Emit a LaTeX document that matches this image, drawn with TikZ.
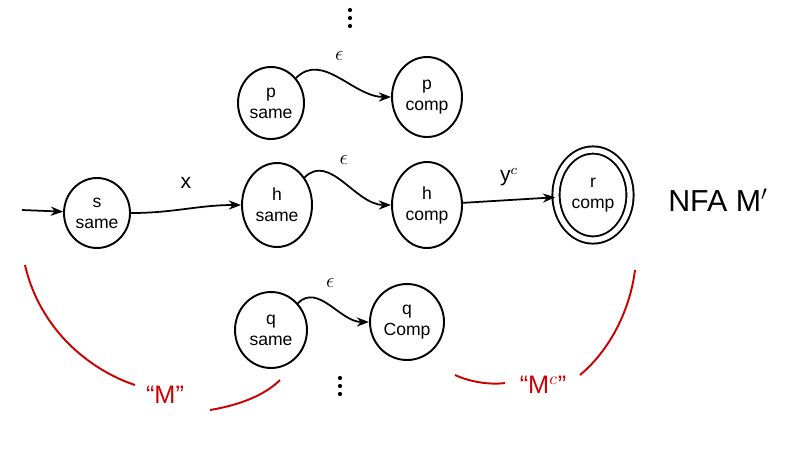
\documentclass[tikz,border=0pt]{standalone}
\usepackage{fontspec}
\setmainfont{Liberation Sans}
\usetikzlibrary{shapes.geometric,arrows.meta}
\begin{document}
\begin{tikzpicture}[x=0.02cm,y=-0.02cm,
  st/.style={draw,ellipse,line width=1.1pt,inner sep=0pt,align=center,font=\normalsize},
  ed/.style={line width=1pt,-{Stealth[length=7pt]}},
  lb/.style={font=\large},
  dt/.style={fill,radius=1.2pt},
  rd/.style={red!80!black,line width=1.1pt}]
\useasboundingbox (0,0) rectangle (800,451);
\node[st,minimum width=1.32cm,minimum height=1.4cm] (s) at (97,213) {s\\same};
\node[st,minimum width=1.4cm,minimum height=1.68cm] (h1) at (277,205) {h\\same};
\node[st,minimum width=1.4cm,minimum height=1.72cm] (h2) at (427,205) {h\\comp};
\node[st,minimum width=1.48cm,minimum height=1.8cm,double,double distance=3pt] (r) at (593,195) {r\\comp};
\node[st,minimum width=1.32cm,minimum height=1.44cm] (p1) at (271,103) {p\\same};
\node[st,minimum width=1.4cm,minimum height=1.6cm] (p2) at (427,97) {p\\comp};
\node[st,minimum width=1.44cm,minimum height=1.52cm] (q1) at (271,330) {q\\same};
\node[st,minimum width=1.48cm,minimum height=1.52cm] (q2) at (407,322) {q\\Comp};
\coordinate (in) at (22,210);
\draw[ed] (in) -- (s);
\draw[ed] (s) to[out=0,in=180] node[lb,above=8pt] {x} (h1);
\draw[ed] (h1) to[out=45,in=180] node[lb,above=6pt] {$\epsilon$} (h2);
\draw[ed] (h2) -- node[lb,above=4pt] {y$^c$} (r);
\draw[ed] (p1) to[out=45,in=180] node[lb,above=6pt] {$\epsilon$} (p2);
\draw[ed] (q1) to[out=45,in=180] node[lb,above=6pt] {$\epsilon$} (q2);
\foreach \y in {10,18,26} \fill (350,\y) circle[radius=1.2pt];
\foreach \y in {378,386,394} \fill (340,\y) circle[radius=1.2pt];
\node[font=\LARGE] (m) at (718,200) {NFA M$'$};
\draw[rd] (25,265) .. controls (40,330) and (90,370) .. (135,385);
\draw[rd] (210,410) .. controls (240,405) and (265,395) .. (280,380);
\node[red!80!black,font=\Large] (lm) at (165,395) {``M''};
\draw[rd] (455,375) .. controls (470,382) and (490,385) .. (505,383);
\draw[rd] (580,375) .. controls (610,350) and (630,310) .. (635,270);
\node[red!80!black,font=\Large] (lmc) at (543,385) {``M$^c$''};
\end{tikzpicture}
\end{document}
